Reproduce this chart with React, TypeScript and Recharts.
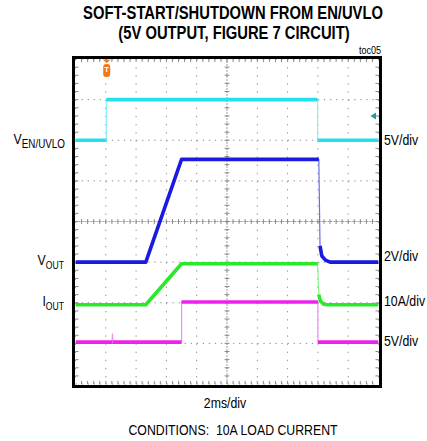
import React from "react";
import {
  CartesianGrid,
  Line,
  LineChart,
  ReferenceDot,
  ReferenceLine,
  XAxis,
  YAxis,
} from "recharts";

// scope screen: 10 x 8 divisions, 2ms/div
const xDivs = [0, 1, 2, 3, 4, 5, 6, 7, 8, 9, 10];
const yDivs = [0, 1, 2, 3, 4, 5, 6, 7, 8];

// V_EN/UVLO (5V/div)
const enTime = [0, 1.02, 1.02, 7.99, 7.99, 10];
const enVolts = [0, 0, 5, 5, 0, 0];

// V_OUT (2V/div)
const voutTime = [0, 2.32, 3.5, 8.03, 8.07, 8.13, 8.25, 8.4, 10];
const voutVolts = [0, 0, 5.06, 5.06, 0.8, 0.3, 0.1, 0, 0];

// I_OUT (10A/div)
const ioutTime = [0, 2.32, 3.5, 7.99, 8.03, 8.08, 8.18, 8.3, 10];
const ioutAmps = [0, 0, 10.1, 10.1, 2.5, 1.0, 0.2, 0, 0];

// PGOOD (5V/div)
const pgTime = [0, 1.21, 1.22, 1.23, 3.5, 3.5, 8.0, 8.0, 10];
const pgVolts = [0, 0, 1.05, 0, 0, 4.95, 4.95, 0, 0];

const trigTime = 1.03;
const trigLevel = 3; // volts, on EN channel

type Channel = {
  name: string;
  time: number[];
  values: number[];
  perDiv: number;
  offset: number; // ground marker, in divisions from bottom
  color: string;
  edge: string;
};

const channels: Channel[] = [
  { name: "en", time: enTime, values: enVolts, perDiv: 5, offset: 6, color: "#22e0ec", edge: "#8af0f6" },
  { name: "vout", time: voutTime, values: voutVolts, perDiv: 2, offset: 3, color: "#1a1ae0", edge: "#6a6af0" },
  { name: "iout", time: ioutTime, values: ioutAmps, perDiv: 10, offset: 1.95, color: "#2ae82a", edge: "#8af08a" },
  { name: "pg", time: pgTime, values: pgVolts, perDiv: 5, offset: 1.03, color: "#ee22ee", edge: "#f08af0" },
];

type Pt = { t: number; y: number | null };

function thinData(ch: Channel): Pt[] {
  return ch.time.map((t, i) => ({ t, y: ch.offset + ch.values[i] / ch.perDiv }));
}

// fast edges are faint on a scope screen, so the thick trace breaks there
function thickData(ch: Channel): Pt[] {
  const pts = thinData(ch);
  const out: Pt[] = [pts[0]];
  for (let i = 1; i < pts.length; i++) {
    const a = pts[i - 1];
    const b = pts[i];
    const dt = b.t - a.t;
    const dy = Math.abs((b.y as number) - (a.y as number));
    if (dy > 0.05 && dy > 8 * dt) out.push({ t: (a.t + b.t) / 2, y: null });
    out.push(b);
  }
  return out;
}

const minorX: number[] = [];
for (let k = 1; k < 50; k++) minorX.push(k / 5);
const minorY: number[] = [];
for (let k = 1; k < 40; k++) minorY.push(k / 5);

const FONT = "'Liberation Sans', Arial, sans-serif";

function Txt({
  x,
  y,
  align = "left",
  size = 15,
  bold = false,
  children,
}: {
  x: number;
  y: number;
  align?: "left" | "center" | "right";
  size?: number;
  bold?: boolean;
  children: React.ReactNode;
}) {
  const shift = align === "center" ? "-50%" : align === "right" ? "-100%" : "0";
  return (
    <div
      style={{
        position: "absolute",
        left: x,
        top: y - size * 0.49,
        fontSize: size,
        fontWeight: bold ? 700 : 400,
        lineHeight: 1,
        whiteSpace: "nowrap",
        color: "#000",
        transform: `translateX(${shift}) scaleX(0.82)`,
        transformOrigin: align,
      }}
    >
      {children}
    </div>
  );
}

const Sub = ({ children, size = 10.5 }: { children: React.ReactNode; size?: number }) => (
  <span style={{ fontSize: size, position: "relative", top: 4 }}>{children}</span>
);

const TrigMarker = (p: any) => {
  const { cx, cy } = p;
  return (
    <g>
      <polygon points={`${cx - 4},${cy + 0.5} ${cx + 4},${cy + 0.5} ${cx},${cy + 4}`} fill="#f07818" />
      <rect x={cx - 3.5} y={cy + 5} width={7} height={13} rx={3} fill="#f07818" />
      <text x={cx} y={cy + 13} textAnchor="middle" fontSize={8} fontWeight={700} fill="#fff" fontFamily={FONT}>
        T
      </text>
    </g>
  );
};

const LevelArrow = (p: any) => {
  const { cx, cy } = p;
  return <polygon points={`${cx - 8},${cy} ${cx - 2.5},${cy - 3.5} ${cx - 2.5},${cy + 3.5}`} fill="#1a9ea4" />;
};

export default function App() {
  const tickColor = "#8a8a8a";
  return (
    <div
      style={{
        position: "absolute",
        left: 0,
        top: 0,
        width: 427,
        height: 441,
        background: "#fff",
        fontFamily: FONT,
        overflow: "hidden",
      }}
    >
      <div style={{ position: "absolute", left: 0, top: 0 }}>
        <LineChart width={427} height={441} margin={{ top: 59, right: 48.5, bottom: 57, left: 75.5 }}>
          <XAxis type="number" dataKey="t" domain={[0, 10]} ticks={xDivs} allowDataOverflow hide />
          <YAxis type="number" domain={[0, 8]} ticks={yDivs} allowDataOverflow hide />
          <CartesianGrid vertical={false} stroke="#8c8c8c" strokeDasharray="1.3 4.76" />
          <CartesianGrid horizontal={false} stroke="#8c8c8c" strokeDasharray="1.3 6.83" />
          <ReferenceLine y={4} stroke="#a0a0a0" strokeDasharray="2 1" />
          <ReferenceLine x={5} stroke="#a0a0a0" strokeDasharray="2 1" />
          {minorX.map((t) => (
            <ReferenceLine key={`tt${t}`} segment={[{ x: t, y: 8 }, { x: t, y: 7.925 }]} stroke={tickColor} />
          ))}
          {minorX.map((t) => (
            <ReferenceLine key={`tb${t}`} segment={[{ x: t, y: 0 }, { x: t, y: 0.075 }]} stroke={tickColor} />
          ))}
          {minorX.map((t) => (
            <ReferenceLine key={`tc${t}`} segment={[{ x: t, y: 3.94 }, { x: t, y: 4.06 }]} stroke={tickColor} />
          ))}
          {minorY.map((v) => (
            <ReferenceLine key={`tl${v}`} segment={[{ x: 0, y: v }, { x: 0.1, y: v }]} stroke={tickColor} />
          ))}
          {minorY.map((v) => (
            <ReferenceLine key={`tr${v}`} segment={[{ x: 9.9, y: v }, { x: 10, y: v }]} stroke={tickColor} />
          ))}
          {minorY.map((v) => (
            <ReferenceLine key={`tm${v}`} segment={[{ x: 4.92, y: v }, { x: 5.08, y: v }]} stroke={tickColor} />
          ))}
          {channels.map((ch) => (
            <Line
              key={`${ch.name}-edge`}
              data={thinData(ch)}
              dataKey="y"
              type="linear"
              stroke={ch.edge}
              strokeWidth={1.2}
              dot={false}
              activeDot={false}
              isAnimationActive={false}
            />
          ))}
          {channels.map((ch) => (
            <Line
              key={`${ch.name}-trace`}
              data={thickData(ch)}
              dataKey="y"
              type="linear"
              stroke={ch.color}
              strokeWidth={3.6}
              strokeLinejoin="round"
              dot={false}
              activeDot={false}
              connectNulls={false}
              isAnimationActive={false}
            />
          ))}
          <ReferenceDot x={trigTime} y={8} r={0} shape={TrigMarker} />
          <ReferenceDot x={10} y={6 + trigLevel / 5} r={0} shape={LevelArrow} />
        </LineChart>
      </div>

      {/* scope bezel */}
      <div
        style={{
          position: "absolute",
          left: 72,
          top: 55.5,
          width: 310,
          height: 332,
          border: "3.5px solid #000",
          boxSizing: "border-box",
        }}
      />

      <Txt x={232.5} y={13.3} align="center" size={18} bold>
        SOFT-START/SHUTDOWN FROM EN/UVLO
      </Txt>
      <Txt x={234} y={32.5} align="center" size={18} bold>
        (5V OUTPUT, FIGURE 7 CIRCUIT)
      </Txt>
      <Txt x={381} y={50} align="right" size={11}>
        toc05
      </Txt>

      <Txt x={65} y={138} align="right">
        V<Sub size={12}>EN/UVLO</Sub>
      </Txt>
      <Txt x={64} y={259} align="right">
        V<Sub>OUT</Sub>
      </Txt>
      <Txt x={64} y={300} align="right">
        I<Sub>OUT</Sub>
      </Txt>

      <Txt x={384} y={139}>5V/div</Txt>
      <Txt x={384} y={255}>2V/div</Txt>
      <Txt x={384} y={300}>10A/div</Txt>
      <Txt x={384} y={340}>5V/div</Txt>

      <Txt x={225} y={402} align="center">
        2ms/div
      </Txt>
      <Txt x={233} y={429} align="center">
        CONDITIONS:&nbsp; 10A LOAD CURRENT
      </Txt>
    </div>
  );
}
